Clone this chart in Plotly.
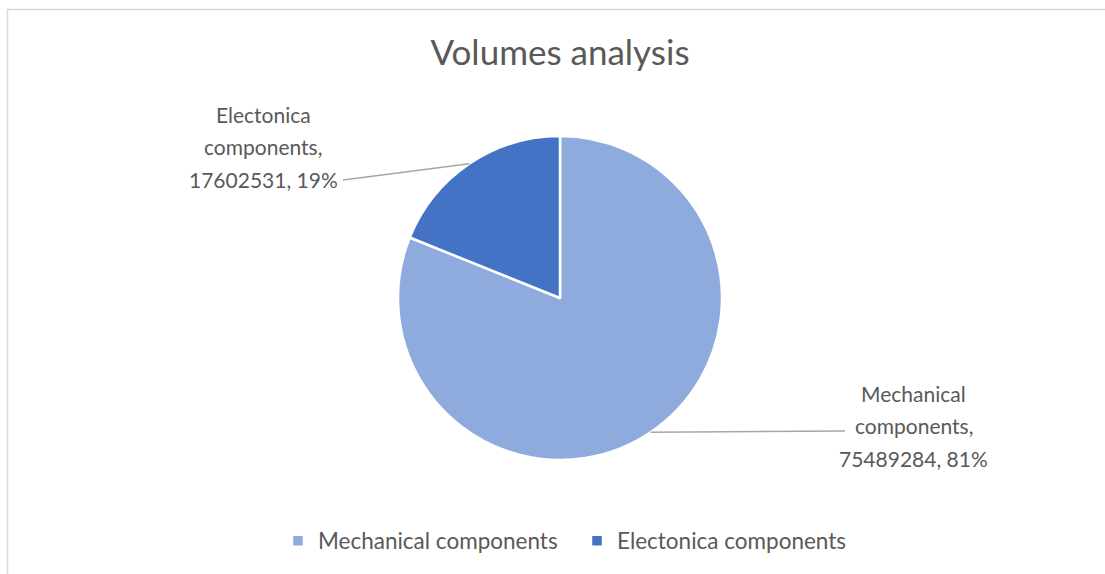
import math
import plotly.graph_objects as go

# Data
categories = ["Mechanical components", "Electonica components"]
volumes = [75489284, 17602531]
colors = ["#8FAADC", "#4472C4"]

W, H = 1105, 574
FONT = "Lato, 'Open Sans', sans-serif"
TEXT_COLOR = "#595959"

# Pie geometry (pixels)
cx, cy, r = 560, 298, 162


def px_x(x):
    return x / W


def px_y(y):
    return 1 - y / H


total = sum(volumes)
shares = [v / total for v in volumes]

fig = go.Figure(
    go.Pie(
        labels=categories,
        values=volumes,
        sort=False,
        direction="clockwise",
        rotation=0,
        marker=dict(colors=colors, line=dict(color="white", width=2.5)),
        textinfo="none",
        hoverinfo="label+value+percent",
        domain=dict(x=[px_x(cx - r), px_x(cx + r)], y=[px_y(cy + r), px_y(cy - r)]),
    )
)

# Data labels with leader lines from each slice's mid-arc
label_pos = {  # line end point, text centre x, and centres of each text row
    "Mechanical components": dict(end=(845, 431), tx=914, rows=(393, 425.5, 458)),
    "Electonica components": dict(end=(343, 180), tx=263, rows=(114, 146.5, 179)),
}
shapes = []
annotations = []
cum = 0.0
for name, val, sh in zip(categories, volumes, shares):
    mid = (cum + sh / 2) * 2 * math.pi
    cum += sh
    ax = cx + r * math.sin(mid)
    ay = cy - r * math.cos(mid)
    pos = label_pos[name]
    ex, ey = pos["end"]
    shapes.append(dict(type="line", xref="paper", yref="paper",
                       x0=px_x(ax), y0=px_y(ay), x1=px_x(ex), y1=px_y(ey),
                       line=dict(color="#A6A6A6", width=1.5)))
    words = name.split(" ")
    lines = [words[0], " ".join(words[1:]) + ",", f"{val}, {round(sh * 100)}%"]
    for line, ry in zip(lines, pos["rows"]):
        annotations.append(dict(x=px_x(pos["tx"]), y=px_y(ry), xref="paper", yref="paper",
                                text=line, showarrow=False, align="center",
                                xanchor="center", yanchor="middle",
                                font=dict(family=FONT, size=21, color=TEXT_COLOR)))

# Chart frame
shapes.append(dict(type="rect", xref="paper", yref="paper",
                   x0=px_x(7.5), x1=px_x(W + 10), y0=px_y(H + 10), y1=px_y(9.5),
                   line=dict(color="#D9D9D9", width=1.5), fillcolor="rgba(0,0,0,0)",
                   layer="below"))

fig.update_layout(
    width=W,
    height=H,
    margin=dict(l=0, r=0, t=0, b=0),
    paper_bgcolor="white",
    plot_bgcolor="white",
    title=dict(text="Volumes analysis", x=px_x(cx), xanchor="center",
               y=px_y(53), yanchor="middle",
               font=dict(family=FONT, size=35, color=TEXT_COLOR)),
    showlegend=True,
    legend=dict(orientation="h", x=px_x(577), xanchor="center", y=px_y(541), yanchor="middle",
                font=dict(family=FONT, size=22.5, color=TEXT_COLOR),
                entrywidth=254, entrywidthmode="pixels",
                traceorder="normal", itemclick=False),
    shapes=shapes,
    annotations=annotations,
)

fig.write_html("out.html")
